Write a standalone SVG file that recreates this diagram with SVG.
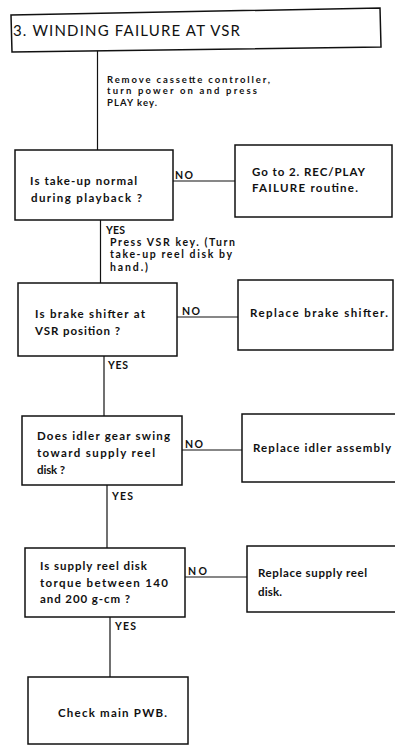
<svg xmlns="http://www.w3.org/2000/svg" width="395" height="746" viewBox="0 0 395 746">
  <style>
    .box { fill: #ffffff; stroke: #111111; stroke-width: 1.5; }
    .wire { fill: none; stroke: #111111; stroke-width: 1.2; }
    text { font-family: Lato, "Open Sans", "Liberation Sans", sans-serif; font-size: 11.5px; font-weight: bold; fill: #111111; }
    .title { font-size: 15px; font-weight: normal; }
    .note { font-size: 9.5px; }
    .step { font-size: 10.5px; }
  </style>
  <rect x="0" y="0" width="395" height="746" fill="#ffffff"/>

  <!-- connectors and their branch labels -->
  <g id="connectors">
    <line class="wire" x1="97.5" y1="50" x2="97.5" y2="150"/>
    <line class="wire" x1="100.5" y1="220" x2="100.5" y2="283"/>
    <line class="wire" x1="104" y1="356" x2="104" y2="416"/>
    <line class="wire" x1="107" y1="485" x2="107" y2="548"/>
    <line class="wire" x1="110" y1="617" x2="110" y2="677"/>
    <line class="wire" x1="173" y1="181" x2="235" y2="181"/>
    <line class="wire" x1="177" y1="317" x2="238" y2="317"/>
    <line class="wire" x1="182" y1="450" x2="242" y2="450"/>
    <line class="wire" x1="185" y1="577" x2="247" y2="577"/>
    <text class="step" x="175" y="179" textLength="18">NO</text>
    <text class="step" x="182" y="315" textLength="18">NO</text>
    <text class="step" x="185" y="448" textLength="18">NO</text>
    <text class="step" x="188" y="575" textLength="19">NO</text>
    <text class="step" x="106" y="234" textLength="19">YES</text>
    <text class="step" x="108" y="369" textLength="20">YES</text>
    <text class="step" x="112" y="500" textLength="21">YES</text>
    <text class="step" x="115" y="630" textLength="21">YES</text>
    <text class="note" x="107" y="82.5" textLength="163">Remove cassette controller,</text>
    <text class="note" x="107" y="94" textLength="150">turn power on and press</text>
    <text class="note" x="107" y="105.5" textLength="50">PLAY key.</text>
    <text class="step" x="110" y="245.5" textLength="125">Press VSR key. (Turn</text>
    <text class="step" x="110" y="258.2" textLength="122">take-up reel disk by</text>
    <text class="step" x="110" y="270.9" textLength="38">hand.)</text>
  </g>

  <g id="title">
    <polygon class="box" points="11,15 380,8 381,47 12,52"/>
    <text class="title" x="13" y="36" textLength="227">3. WINDING FAILURE AT VSR</text>
  </g>

  <g id="q-takeup">
    <rect class="box" x="15" y="150" width="158" height="70"/>
    <text x="30" y="185" textLength="107">Is take-up normal</text>
    <text x="31" y="202" textLength="111">during playback ?</text>
  </g>

  <g id="go-recplay">
    <rect class="box" x="235" y="145" width="157" height="72"/>
    <text x="252" y="176" textLength="113">Go to 2. REC/PLAY</text>
    <text x="252" y="192" textLength="106">FAILURE routine.</text>
  </g>

  <g id="q-brake">
    <rect class="box" x="18" y="283" width="159" height="73"/>
    <text x="35" y="318" textLength="110">Is brake shifter at</text>
    <text x="35" y="335" textLength="85">VSR position ?</text>
  </g>

  <g id="fix-brake">
    <rect class="box" x="238" y="280" width="155" height="70"/>
    <text x="250" y="317" textLength="138">Replace brake shifter.</text>
  </g>

  <g id="q-idler">
    <rect class="box" x="22" y="416" width="160" height="69"/>
    <text x="37" y="440" textLength="133">Does idler gear swing</text>
    <text x="37" y="457" textLength="118">toward supply reel</text>
    <text x="37" y="474" textLength="28">disk ?</text>
  </g>

  <g id="fix-idler">
    <rect class="box" x="242" y="414" width="160" height="68"/>
    <text x="253" y="452" textLength="138">Replace idler assembly</text>
  </g>

  <g id="q-torque">
    <rect class="box" x="25" y="548" width="160" height="69"/>
    <text x="40" y="570" textLength="107">Is supply reel disk</text>
    <text x="40" y="587" textLength="128">torque between 140</text>
    <text x="40" y="603" textLength="90">and 200 g-cm ?</text>
  </g>

  <g id="fix-supply">
    <rect class="box" x="247" y="546" width="160" height="66"/>
    <text x="258" y="577" textLength="109">Replace supply reel</text>
    <text x="258" y="596" textLength="24">disk.</text>
  </g>

  <g id="check-pwb">
    <rect class="box" x="28" y="677" width="160" height="67"/>
    <text x="58" y="717" textLength="109">Check main PWB.</text>
  </g>
</svg>
